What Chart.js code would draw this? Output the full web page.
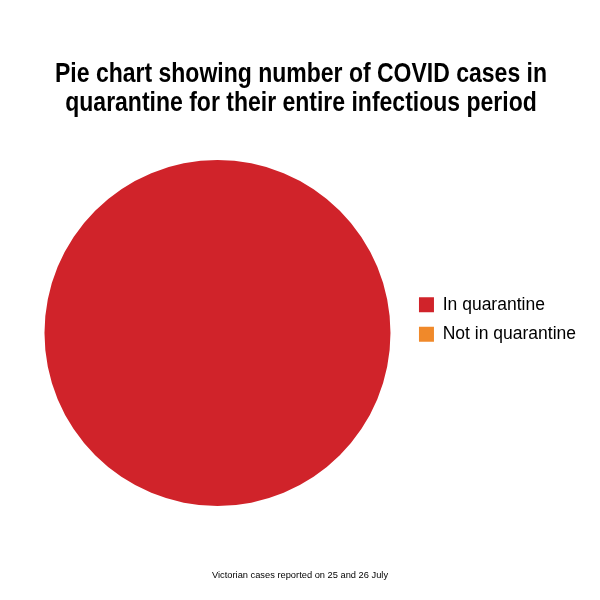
<!DOCTYPE html>
<html>
<head>
<meta charset="utf-8">
<script src="https://cdn.jsdelivr.net/npm/chart.js@4"></script>
<style>
html,body{margin:0;padding:0;background:#fff;}
#wrap{width:600px;height:600px;}
</style>
</head>
<body>
<div id="wrap"><canvas id="c" width="600" height="600"></canvas></div>
<script>
const categories = ['In quarantine', 'Not in quarantine'];
const caseValues = [100, 0];
const sliceColors = ['#d0232a', '#f0892a'];
const titleLines = ['Pie chart showing number of COVID cases in', 'quarantine for their entire infectious period'];
const footerText = 'Victorian cases reported on 25 and 26 July';

const textFamily = "'Liberation Sans', Arial, sans-serif";

// Draws the condensed headline and the small source note as real canvas text.
const headlinePlugin = {
  id: 'headline',
  afterDraw(chart) {
    const ctx = chart.ctx;
    ctx.save();
    ctx.fillStyle = '#000';
    ctx.textAlign = 'center';
    ctx.textBaseline = 'alphabetic';
    ctx.font = "bold 28px " + textFamily;
    const natural = ctx.measureText(titleLines[0]).width;
    const squeeze = 492 / natural;
    ctx.translate(301, 0);
    ctx.scale(squeeze, 1);
    ctx.fillText(titleLines[0], 0, 82);
    ctx.fillText(titleLines[1], 0, 111);
    ctx.restore();

    ctx.save();
    ctx.fillStyle = '#000';
    ctx.textAlign = 'center';
    ctx.textBaseline = 'alphabetic';
    ctx.font = "9.3px " + textFamily;
    ctx.fillText(footerText, 300, 578);
    ctx.restore();
  }
};

function build() {
  new Chart(document.getElementById('c'), {
    type: 'pie',
    data: {
      labels: categories,
      datasets: [{
        data: caseValues,
        backgroundColor: sliceColors,
        borderWidth: 0
      }]
    },
    options: {
      responsive: false,
      animation: false,
      layout: { padding: { left: 28, right: 14, top: 160, bottom: 94 } },
      plugins: {
        tooltip: { enabled: false },
        title: { display: false },
        legend: {
          position: 'right',
          align: 'start',
          title: {
            display: true,
            text: ' ',
            font: { size: 10, lineHeight: 1.2 },
            padding: { top: 0, bottom: 112 }
          },
          labels: {
            color: '#000',
            boxWidth: 15,
            boxHeight: 15,
            padding: 12,
            font: { family: textFamily, size: 17.5 }
          }
        }
      }
    },
    plugins: [headlinePlugin]
  });
}

Promise.all([
  document.fonts.load("bold 28px 'Liberation Sans'"),
  document.fonts.load("17px 'Liberation Sans'")
]).then(build, build);
</script>
</body>
</html>
